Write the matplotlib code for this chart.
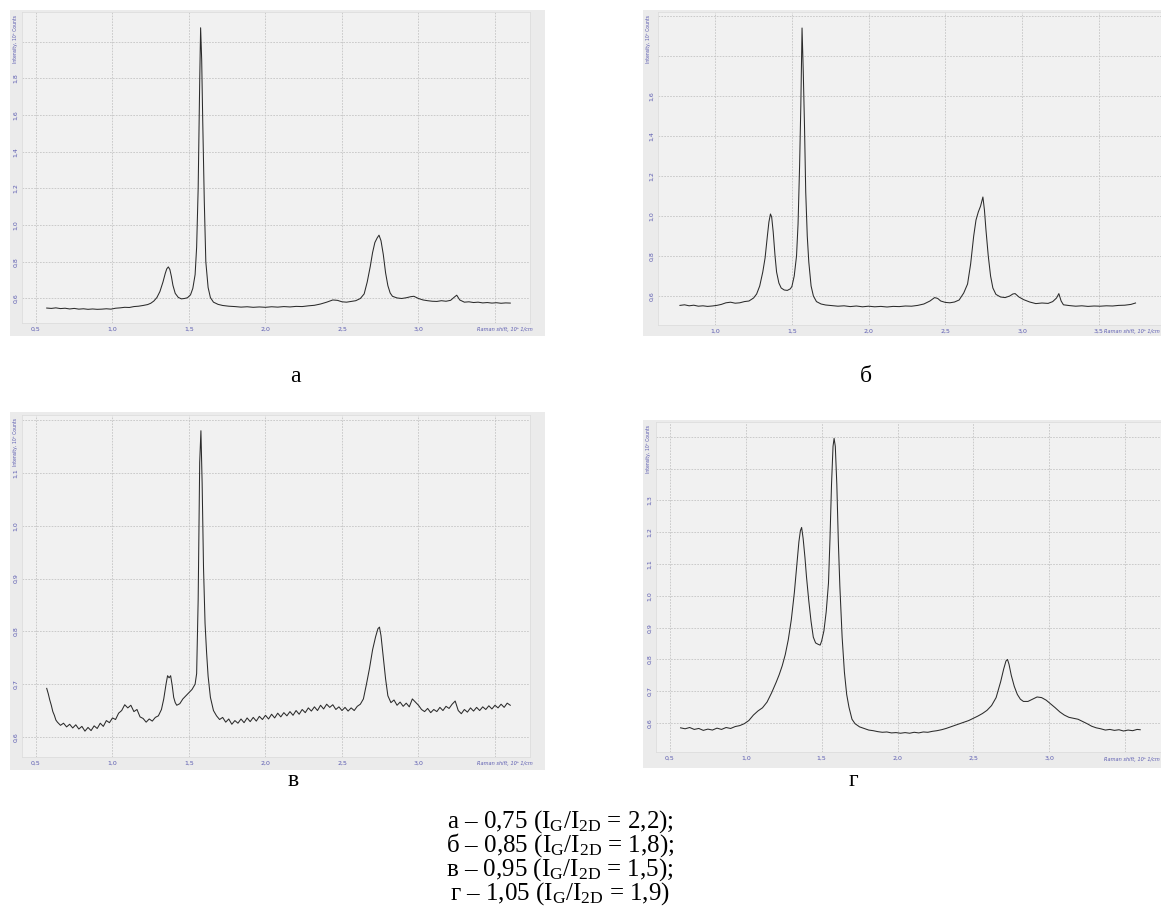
# Raman spectra, four panels + caption
import matplotlib
matplotlib.use("Agg")
import matplotlib.pyplot as plt
from matplotlib.patches import Rectangle

plt.rcParams['mathtext.fontset'] = 'custom'
plt.rcParams['mathtext.rm'] = 'Liberation Serif'
plt.rcParams['mathtext.it'] = 'Liberation Serif:italic'

# ---------------- data (x: 10^3 1/cm, y: 10^3 counts) ----------------
x_a = [0.57, 0.60, 0.63, 0.66, 0.69, 0.72, 0.75, 0.78, 0.81, 0.84, 0.87, 0.90, 0.93, 0.96, 0.99,
       1.02, 1.05, 1.08, 1.11, 1.14, 1.17, 1.20, 1.23, 1.25, 1.27, 1.29, 1.31, 1.33, 1.345, 1.355,
       1.365, 1.375, 1.385, 1.395, 1.41, 1.43, 1.45, 1.47, 1.49, 1.51, 1.525, 1.54, 1.55, 1.56,
       1.57, 1.576, 1.583, 1.59, 1.60, 1.61, 1.625, 1.64, 1.66, 1.69, 1.72, 1.76, 1.80, 1.84,
       1.88, 1.92, 1.96, 2.00, 2.04, 2.08, 2.12, 2.16, 2.20, 2.24, 2.28, 2.32, 2.36, 2.40, 2.44,
       2.47, 2.50, 2.53, 2.56, 2.59, 2.62, 2.645, 2.665, 2.685, 2.70, 2.715, 2.73, 2.742, 2.755,
       2.77, 2.785, 2.80, 2.815, 2.83, 2.86, 2.89, 2.92, 2.95, 2.97, 3.00, 3.03, 3.06, 3.09, 3.12,
       3.15, 3.18, 3.21, 3.235, 3.25, 3.27, 3.30, 3.33, 3.36, 3.39, 3.42, 3.45, 3.48, 3.51, 3.54,
       3.57, 3.60]
y_a = [0.548, 0.546, 0.549, 0.545, 0.547, 0.543, 0.546, 0.542, 0.544, 0.541, 0.543, 0.541, 0.542,
       0.544, 0.542, 0.547, 0.549, 0.552, 0.551, 0.556, 0.558, 0.562, 0.567, 0.574, 0.586, 0.605,
       0.638, 0.690, 0.737, 0.762, 0.772, 0.758, 0.720, 0.672, 0.628, 0.606, 0.598, 0.600, 0.604,
       0.620, 0.655, 0.730, 0.880, 1.200, 1.780, 2.075, 1.900, 1.560, 1.130, 0.800, 0.660, 0.605,
       0.580, 0.568, 0.562, 0.558, 0.556, 0.553, 0.555, 0.552, 0.554, 0.552, 0.555, 0.553, 0.556,
       0.554, 0.557, 0.556, 0.560, 0.563, 0.570, 0.580, 0.592, 0.590, 0.582, 0.580, 0.584, 0.588,
       0.600, 0.625, 0.690, 0.775, 0.850, 0.905, 0.930, 0.945, 0.915, 0.840, 0.740, 0.670, 0.630,
       0.612, 0.603, 0.600, 0.604, 0.610, 0.612, 0.600, 0.592, 0.588, 0.585, 0.584, 0.588, 0.585,
       0.590, 0.608, 0.618, 0.592, 0.580, 0.582, 0.578, 0.580, 0.576, 0.578, 0.575, 0.577, 0.574,
       0.576, 0.575]

x_b = [0.77, 0.80, 0.83, 0.86, 0.89, 0.92, 0.95, 0.98, 1.01, 1.04, 1.07, 1.10, 1.13, 1.16, 1.19,
       1.22, 1.25, 1.27, 1.29, 1.31, 1.325, 1.34, 1.35, 1.36, 1.368, 1.378, 1.39, 1.40, 1.415,
       1.43, 1.45, 1.47, 1.49, 1.50, 1.515, 1.53, 1.54, 1.55, 1.558, 1.566, 1.574, 1.582, 1.59,
       1.60, 1.61, 1.625, 1.64, 1.66, 1.69, 1.72, 1.76, 1.80, 1.84, 1.88, 1.92, 1.96, 2.00, 2.04,
       2.08, 2.12, 2.16, 2.20, 2.24, 2.28, 2.32, 2.36, 2.40, 2.43, 2.45, 2.47, 2.50, 2.53, 2.56,
       2.59, 2.62, 2.645, 2.665, 2.685, 2.70, 2.715, 2.73, 2.745, 2.755, 2.765, 2.78, 2.795, 2.81,
       2.83, 2.86, 2.89, 2.92, 2.94, 2.955, 2.98, 3.01, 3.05, 3.09, 3.13, 3.17, 3.20, 3.225, 3.24,
       3.255, 3.27, 3.31, 3.35, 3.39, 3.43, 3.47, 3.51, 3.55, 3.59, 3.63, 3.67, 3.71, 3.74]
y_b = [0.553, 0.556, 0.551, 0.554, 0.549, 0.551, 0.548, 0.550, 0.553, 0.558, 0.566, 0.569, 0.564,
       0.566, 0.572, 0.575, 0.590, 0.610, 0.650, 0.720, 0.790, 0.900, 0.970, 1.010, 0.995, 0.920,
       0.800, 0.720, 0.665, 0.640, 0.630, 0.628, 0.636, 0.648, 0.700, 0.800, 0.960, 1.250, 1.550,
       1.940, 1.720, 1.450, 1.120, 0.900, 0.770, 0.650, 0.600, 0.572, 0.560, 0.555, 0.552, 0.549,
       0.551, 0.547, 0.550, 0.546, 0.549, 0.546, 0.548, 0.545, 0.548, 0.547, 0.550, 0.549, 0.553,
       0.560, 0.575, 0.592, 0.588, 0.575, 0.568, 0.566, 0.570, 0.580, 0.615, 0.660, 0.760, 0.900,
       0.980, 1.020, 1.050, 1.095, 1.030, 0.930, 0.800, 0.700, 0.640, 0.608, 0.595, 0.592, 0.600,
       0.610, 0.612, 0.595, 0.582, 0.570, 0.562, 0.565, 0.563, 0.572, 0.590, 0.612, 0.575, 0.556,
       0.552, 0.549, 0.551, 0.548, 0.550, 0.549, 0.551, 0.550, 0.553, 0.554, 0.558, 0.565]

x_v = [0.57, 0.58, 0.59, 0.60, 0.61, 0.62, 0.63, 0.64, 0.66, 0.68, 0.70, 0.72, 0.74, 0.76, 0.78,
       0.80, 0.82, 0.84, 0.86, 0.88, 0.90, 0.92, 0.94, 0.96, 0.98, 1.00, 1.02, 1.04, 1.06, 1.08,
       1.10, 1.12, 1.14, 1.16, 1.18, 1.20, 1.22, 1.24, 1.26, 1.28, 1.30, 1.32, 1.335, 1.35, 1.36,
       1.37, 1.38, 1.39, 1.40, 1.41, 1.42, 1.44, 1.46, 1.48, 1.50, 1.52, 1.54, 1.55, 1.56, 1.57,
       1.578, 1.586, 1.595, 1.605, 1.615, 1.625, 1.64, 1.66, 1.68, 1.70, 1.72, 1.74, 1.76, 1.78,
       1.80, 1.82, 1.84, 1.86, 1.88, 1.90, 1.92, 1.94, 1.96, 1.98, 2.00, 2.02, 2.04, 2.06, 2.08,
       2.10, 2.12, 2.14, 2.16, 2.18, 2.20, 2.22, 2.24, 2.26, 2.28, 2.30, 2.32, 2.34, 2.36, 2.38,
       2.40, 2.42, 2.44, 2.46, 2.48, 2.50, 2.52, 2.54, 2.56, 2.58, 2.60, 2.62, 2.64, 2.66, 2.68,
       2.70, 2.72, 2.735, 2.745, 2.755, 2.77, 2.785, 2.80, 2.82, 2.84, 2.86, 2.88, 2.90, 2.92,
       2.94, 2.96, 2.98, 3.00, 3.02, 3.04, 3.06, 3.08, 3.10, 3.12, 3.14, 3.16, 3.18, 3.20, 3.22,
       3.24, 3.26, 3.28, 3.30, 3.32, 3.34, 3.36, 3.38, 3.40, 3.42, 3.44, 3.46, 3.48, 3.50, 3.52,
       3.54, 3.56, 3.58, 3.60]
y_v = [0.692, 0.682, 0.670, 0.660, 0.648, 0.641, 0.632, 0.628, 0.622, 0.626, 0.619, 0.624, 0.617,
       0.623, 0.615, 0.620, 0.611, 0.618, 0.612, 0.621, 0.616, 0.626, 0.620, 0.631, 0.627, 0.636,
       0.633, 0.645, 0.650, 0.661, 0.655, 0.660, 0.648, 0.652, 0.638, 0.635, 0.628, 0.634, 0.630,
       0.637, 0.640, 0.652, 0.672, 0.700, 0.716, 0.712, 0.716, 0.698, 0.675, 0.665, 0.660, 0.663,
       0.672, 0.678, 0.684, 0.690, 0.700, 0.720, 0.860, 1.120, 1.180, 1.080, 0.920, 0.815, 0.760,
       0.715, 0.675, 0.650, 0.640, 0.633, 0.637, 0.628, 0.634, 0.624, 0.631, 0.626, 0.634, 0.627,
       0.636, 0.629, 0.637, 0.630, 0.639, 0.633, 0.641, 0.634, 0.643, 0.636, 0.645, 0.638, 0.646,
       0.640, 0.648, 0.641, 0.650, 0.643, 0.652, 0.646, 0.655, 0.649, 0.657, 0.650, 0.660, 0.653,
       0.662, 0.656, 0.661, 0.652, 0.657, 0.650, 0.656, 0.649, 0.655, 0.650, 0.658, 0.662, 0.672,
       0.700, 0.730, 0.765, 0.790, 0.805, 0.808, 0.792, 0.750, 0.710, 0.678, 0.665, 0.670, 0.660,
       0.666, 0.658, 0.664, 0.657, 0.672, 0.666, 0.660, 0.652, 0.648, 0.654, 0.646, 0.652, 0.648,
       0.656, 0.650, 0.658, 0.654, 0.662, 0.668, 0.650, 0.644, 0.652, 0.647, 0.655, 0.649, 0.656,
       0.650, 0.657, 0.652, 0.659, 0.653, 0.660, 0.655, 0.662, 0.656, 0.664, 0.660]

x_g = [0.57, 0.60, 0.63, 0.66, 0.69, 0.72, 0.75, 0.78, 0.81, 0.84, 0.87, 0.90, 0.93, 0.96, 0.99,
       1.02, 1.05, 1.08, 1.11, 1.14, 1.17, 1.20, 1.22, 1.24, 1.26, 1.28, 1.30, 1.32, 1.335, 1.35,
       1.36, 1.368, 1.378, 1.39, 1.40, 1.415, 1.43, 1.445, 1.46, 1.475, 1.49, 1.50, 1.515, 1.53,
       1.545, 1.555, 1.565, 1.575, 1.582, 1.59, 1.60, 1.61, 1.62, 1.635, 1.65, 1.665, 1.68, 1.70,
       1.72, 1.75, 1.78, 1.81, 1.84, 1.87, 1.90, 1.93, 1.96, 1.99, 2.02, 2.05, 2.08, 2.11, 2.14,
       2.17, 2.20, 2.23, 2.26, 2.29, 2.32, 2.35, 2.38, 2.41, 2.44, 2.47, 2.50, 2.53, 2.56, 2.59,
       2.62, 2.65, 2.68, 2.70, 2.715, 2.725, 2.735, 2.75, 2.77, 2.79, 2.81, 2.83, 2.86, 2.89, 2.92,
       2.95, 2.98, 3.01, 3.04, 3.07, 3.10, 3.13, 3.16, 3.19, 3.22, 3.25, 3.28, 3.31, 3.34, 3.37,
       3.40, 3.43, 3.46, 3.49, 3.52, 3.55, 3.58, 3.60]
y_g = [0.585, 0.582, 0.586, 0.580, 0.583, 0.577, 0.581, 0.578, 0.584, 0.580, 0.586, 0.583, 0.589,
       0.592, 0.598, 0.608, 0.625, 0.638, 0.648, 0.666, 0.695, 0.728, 0.752, 0.780, 0.815, 0.862,
       0.925, 1.010, 1.090, 1.170, 1.205, 1.215, 1.180, 1.120, 1.060, 0.985, 0.920, 0.870, 0.852,
       0.848, 0.845, 0.858, 0.890, 0.950, 1.040, 1.180, 1.350, 1.470, 1.495, 1.470, 1.350, 1.170,
       1.030, 0.870, 0.760, 0.690, 0.650, 0.612, 0.598, 0.588, 0.583, 0.578, 0.576, 0.573, 0.571,
       0.572, 0.569, 0.570, 0.568, 0.570, 0.568, 0.571, 0.569, 0.572, 0.571, 0.574, 0.576, 0.579,
       0.583, 0.588, 0.593, 0.598, 0.603, 0.608, 0.615, 0.622, 0.630, 0.640, 0.655, 0.680, 0.730,
       0.770, 0.795, 0.800, 0.785, 0.750, 0.715, 0.690, 0.675, 0.668, 0.668, 0.675, 0.682, 0.680,
       0.672, 0.660, 0.648, 0.635, 0.625, 0.618, 0.615, 0.612, 0.605, 0.598, 0.590, 0.585, 0.582,
       0.578, 0.580, 0.577, 0.579, 0.575, 0.578, 0.576, 0.580, 0.579]

panel_letters = ['а', 'б', 'в', 'г']
dg_ratio = ['0,75', '0,85', '0,95', '1,05']
g2d_ratio = ['2,2', '1,8', '1,5', '1,9']

# ---------------- layout ----------------
W, H = 1161, 910
fig = plt.figure(figsize=(W / 100, H / 100), dpi=100)
BLUE = '#5b5bb0'


def fx(px):
    return px / W


def fy(py):
    return 1 - py / H


def panel(frame, plot, xlim, ylim, xt, xlab, yt, ylab, x, y, xtitle_right=True):
    fx0, fy0, fx1, fy1 = frame
    fig.patches.append(Rectangle((fx(fx0), fy(fy1)), fx(fx1 - fx0), (fy1 - fy0) / H,
                                 transform=fig.transFigure, facecolor='#ebebeb',
                                 edgecolor='none', zorder=-5))
    x0, y0, x1, y1 = plot
    ax = fig.add_axes([fx(x0), fy(y1), fx(x1 - x0), (y1 - y0) / H])
    ax.set_zorder(2)
    ax.set_facecolor('#f1f1f1')
    ax.plot(x, y, color='#2b2b2b', lw=0.75)
    ax.set_xlim(*xlim)
    ax.set_ylim(*ylim)
    ax.set_xticks(xt)
    ax.set_xticklabels(xlab)
    ax.set_yticks(yt)
    ax.set_yticklabels(ylab, rotation=90, va='center')
    ax.tick_params(length=0, labelsize=4.5, labelcolor=BLUE)
    ax.tick_params(axis='x', pad=2.5)
    ax.tick_params(axis='y', pad=2.5)
    ax.grid(True, color='#c4c4c4', lw=0.6, linestyle=(0, (2, 1.5)))
    for s in ax.spines.values():
        s.set_color('#dddddd')
        s.set_linewidth(0.6)
    # axis titles inside the frame
    fig.text(fx(fx0 + 3), fy(y0 + 3), 'Intensity, 10³ Counts', rotation=90,
             ha='left', va='top', fontsize=3.3, color=BLUE, zorder=5)
    if xtitle_right:
        fig.text(fx(x1 + 3), fy(y1 + 7), 'Raman shift, 10³ 1/cm', ha='right', va='center',
                 fontsize=3.6, color=BLUE, style='italic', zorder=5)
    else:
        fig.text(fx(1160), fy(y1 + 7), 'Raman shift, 10³ 1/cm', ha='right', va='center',
                 fontsize=3.6, color=BLUE, style='italic', zorder=5)
    return ax


xt_all = [0.5, 1.0, 1.5, 2.0, 2.5, 3.0, 3.5]
xl_a = ['0,5', '1,0', '1,5', '2,0', '2,5', '3,0', '']

panel((10, 10, 545, 336), (22, 12, 530, 323), (0.4085, 3.729), (0.4665, 2.161),
      xt_all, xl_a,
      [0.6, 0.8, 1.0, 1.2, 1.4, 1.6, 1.8, 2.0],
      ['0,6', '0,8', '1,0', '1,2', '1,4', '1,6', '1,8', ''], x_a, y_a)

panel((643, 10, 1161, 336), (658, 12, 1161, 325), (0.627, 3.906), (0.455, 2.02),
      [1.0, 1.5, 2.0, 2.5, 3.0, 3.5], ['1,0', '1,5', '2,0', '2,5', '3,0', '3,5'],
      [0.6, 0.8, 1.0, 1.2, 1.4, 1.6, 1.8, 2.0],
      ['0,6', '0,8', '1,0', '1,2', '1,4', '1,6', '', ''], x_b, y_b, xtitle_right=False)

panel((10, 412, 545, 770), (22, 415, 530, 757), (0.4085, 3.729), (0.562, 1.2098),
      xt_all, xl_a,
      [0.6, 0.7, 0.8, 0.9, 1.0, 1.1, 1.2],
      ['0,6', '0,7', '0,8', '0,9', '1,0', '1,1', ''], x_v, y_v)

panel((643, 420, 1161, 768), (656, 422, 1161, 752), (0.408, 3.737), (0.509, 1.5465),
      xt_all, xl_a,
      [0.6, 0.7, 0.8, 0.9, 1.0, 1.1, 1.2, 1.3, 1.4, 1.5],
      ['0,6', '0,7', '0,8', '0,9', '1,0', '1,1', '1,2', '1,3', '', ''], x_g, y_g,
      xtitle_right=False)

# panel letters
serif = ['Liberation Serif', 'DejaVu Serif']
for (px, py), letter in zip([(295, 376), (866, 376), (293, 780), (853, 780)], panel_letters):
    fig.text(fx(px), fy(py), letter, ha='center', va='center', fontsize=17, family=serif)

# caption, one block of four lines
lines = []
for i in range(4):
    line = f'{panel_letters[i]} – {dg_ratio[i]} (I$_\\mathrm{{G}}$/I$_\\mathrm{{2D}}$ = {g2d_ratio[i]})'
    lines.append(line + (';' if i < 3 else ''))
fig.text(fx(560), fy(808), '\n'.join(lines), ha='center', va='top', multialignment='center',
         fontsize=18, linespacing=0.84, family=serif)

fig.savefig('out.png', dpi=100, facecolor='white')
